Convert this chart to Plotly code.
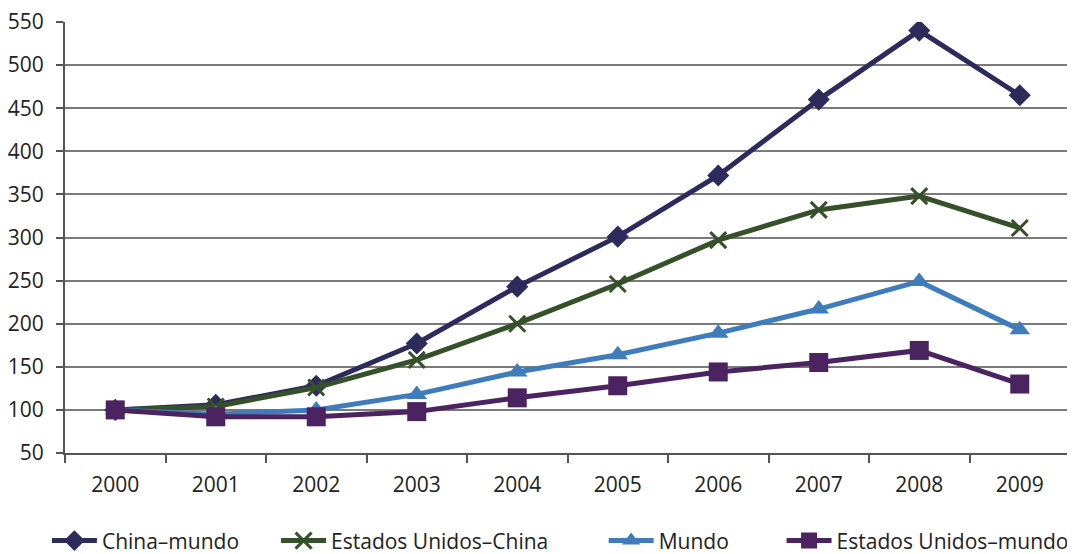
import plotly.graph_objects as go

years = ["2000", "2001", "2002", "2003", "2004", "2005", "2006", "2007", "2008", "2009"]
china_mundo = [100, 106, 128, 177, 243, 301, 372, 460, 540, 465]
eu_china = [100, 104, 126, 158, 200, 246, 297, 332, 348, 311]
mundo = [100, 95, 100, 118, 144, 164, 189, 217, 249, 193]
eu_mundo = [100, 92, 92, 98, 114, 128, 144, 155, 169, 130]

names = ["China–mundo", "Estados Unidos–China", "Mundo", "Estados Unidos–mundo"]
colors = ["#2d2b5c", "#36502a", "#3f7cbc", "#4b2361"]
symbols = ["diamond", "x-thin", "triangle-up", "square"]
sizes = [17, 16, 18, 19]
series = [china_mundo, eu_china, mundo, eu_mundo]
legend_ids = ["legend", "legend2", "legend3", "legend4"]
legend_x = [-0.018, 0.21, 0.536, 0.713]

fig = go.Figure()
for name, vals, col, sym, sz, lid in zip(names, series, colors, symbols, sizes, legend_ids):
    marker = dict(symbol=sym, size=sz, color=col)
    if sym == "x-thin":
        marker["line"] = dict(color=col, width=3)
    fig.add_trace(go.Scatter(x=years, y=vals, name=name, mode="lines+markers",
                             line=dict(color=col, width=5), marker=marker, legend=lid))

font = "Open Sans, DejaVu Sans, sans-serif"
legend_common = dict(orientation="h", y=-0.204, yanchor="middle", xanchor="left",
                     font=dict(size=21, color="#222222"), itemwidth=45,
                     bgcolor="rgba(0,0,0,0)")
fig.update_layout(
    width=1075, height=554,
    margin=dict(l=57, r=13, t=14, b=109, autoexpand=False),
    paper_bgcolor="white", plot_bgcolor="white",
    font=dict(family=font, size=21, color="#222222"),
    showlegend=True,
)
for lid, lx in zip(legend_ids, legend_x):
    fig.update_layout({lid: dict(legend_common, x=lx)})

fig.update_xaxes(type="category", tickson="boundaries", ticks="outside", ticklen=8,
                 tickcolor="#555555", tickwidth=2, showgrid=False,
                 showline=True, linecolor="#555555", linewidth=2, mirror=False,
                 range=[-0.5, 9.5], automargin=False, tickfont=dict(size=21),
                 ticklabelstandoff=12, ticklabeloverflow="allow")
fig.update_yaxes(range=[50, 550], dtick=50, tick0=50, ticks="outside", ticklen=7,
                 tickcolor="#555555", tickwidth=2, showgrid=True, gridcolor="#7a7a7a",
                 gridwidth=1.5, showline=True, linecolor="#555555", linewidth=2,
                 zeroline=False, automargin=False, tickfont=dict(size=21),
                 ticklabelstandoff=8, ticklabeloverflow="allow")
# right border line
fig.add_shape(type="line", xref="paper", yref="paper", x0=1, x1=1, y0=0, y1=1,
              line=dict(color="#666666", width=2))

fig.write_html("out.html")
